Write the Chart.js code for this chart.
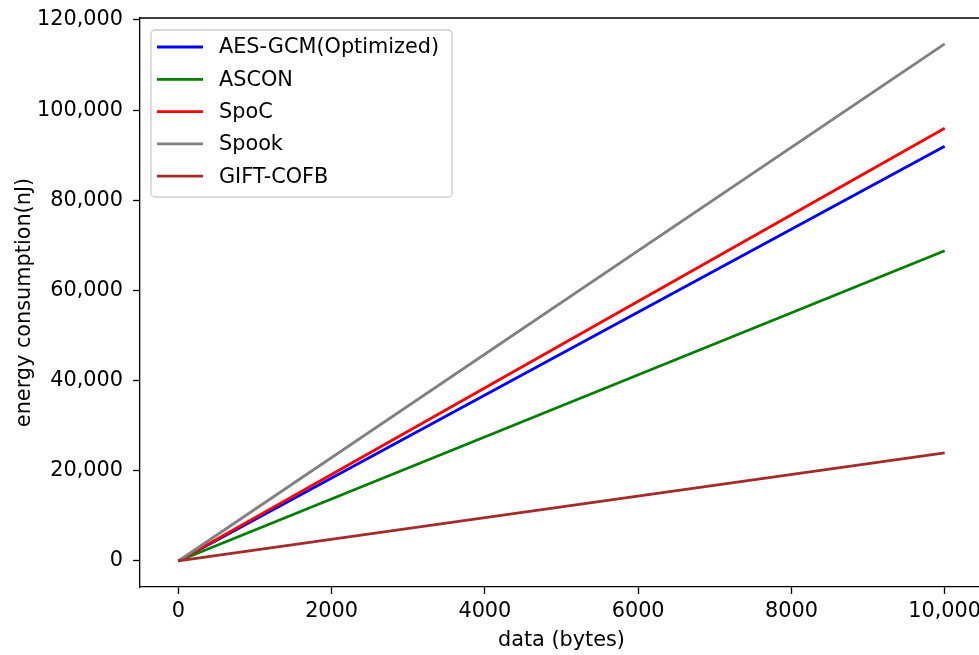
<!DOCTYPE html>
<html>
<head>
<meta charset="utf-8">
<script src="https://cdn.jsdelivr.net/npm/chart.js@4"></script>
<style>
    html, body { margin: 0; padding: 0; background: #fff; overflow: hidden; }
    #wrap { width: 979px; height: 655px; overflow: hidden; }
    #wrap div { width: 990px; height: 655px; }
</style>
</head>
<body>
<div id="wrap"><div><canvas id="energyChart"></canvas></div></div>
<script>
// Energy consumption per cipher
const dataSizes = [0, 10000];
const seriesNames = ['AES-GCM(Optimized)', 'ASCON', 'SpoC', 'Spook', 'GIFT-COFB'];
const aesGcm = [0, 92000];
const ascon = [0, 68800];
const spoc = [0, 96000];
const spook = [0, 114700];
const giftCofb = [0, 24000];
const seriesColors = ['#0000ff', '#008000', '#ff0000', '#808080', '#a52a2a'];
const xTicks = [0, 2000, 4000, 6000, 8000, 10000];
const xTickLabels = ['0', '2000', '4000', '6000', '8000', '10,000'];
const yTicks = [0, 20000, 40000, 60000, 80000, 100000, 120000];
const yTickLabels = ['0', '20,000', '40,000', '60,000', '80,000', '100,000', '120,000'];

const FONT = "'DejaVu Sans', sans-serif";
const FONT_SIZE = 20.8;
const allSeries = [aesGcm, ascon, spoc, spook, giftCofb];

// draws the top spine and a matplotlib style legend inside the plot
const framePlugin = {
    id: 'frame',
    afterDraw(chart) {
        const ctx = chart.ctx;
        const a = chart.chartArea;
        ctx.save();
        ctx.strokeStyle = '#000';
        ctx.lineWidth = 1.3;
        ctx.beginPath();
        ctx.moveTo(a.left, a.top);
        ctx.lineTo(a.right, a.top);
        ctx.lineTo(a.right, a.bottom);
        ctx.stroke();

        // legend box
        const bx = 151, by = 30, bw = 301, bh = 167;
        ctx.beginPath();
        ctx.roundRect(bx, by, bw, bh, 4);
        ctx.fillStyle = 'rgba(255,255,255,0.8)';
        ctx.fill();
        ctx.strokeStyle = '#cccccc';
        ctx.lineWidth = 1.3;
        ctx.stroke();

        ctx.font = FONT_SIZE + 'px ' + FONT;
        ctx.textBaseline = 'middle';
        ctx.fillStyle = '#000';
        chart.data.datasets.forEach((ds, i) => {
            const y = 47 + i * 32.3;
            ctx.strokeStyle = ds.borderColor;
            ctx.lineWidth = 2.8;
            ctx.beginPath();
            ctx.moveTo(157, y);
            ctx.lineTo(203, y);
            ctx.stroke();
            ctx.fillText(ds.label, 219, y + 1);
        });
        ctx.restore();
    }
};

new Chart(document.getElementById('energyChart'), {
    type: 'line',
    data: {
        datasets: seriesNames.map((name, i) => ({
            label: name,
            data: dataSizes.map((x, j) => ({ x: x, y: allSeries[i][j] })),
            borderColor: seriesColors[i],
            backgroundColor: seriesColors[i],
            borderWidth: 2.8,
            pointRadius: 0,
            tension: 0,
            order: seriesNames.length - i
        }))
    },
    options: {
        responsive: true,
        maintainAspectRatio: false,
        animation: false,
        layout: { padding: { top: 18, right: 7, left: 0, bottom: 0 } },
        plugins: {
            legend: { display: false },
            tooltip: { enabled: false }
        },
        scales: {
            x: {
                type: 'linear',
                min: -500,
                max: 10500,
                afterBuildTicks: s => { s.ticks = xTicks.map(v => ({ value: v })); },
                afterFit: s => { s.height = 68; s.paddingLeft = 0; s.paddingRight = 0; },
                ticks: {
                    callback: (v) => xTickLabels[xTicks.indexOf(v)],
                    font: { family: FONT, size: FONT_SIZE },
                    color: '#000',
                    maxRotation: 0,
                    padding: 5
                },
                grid: { drawOnChartArea: false, drawTicks: true, tickLength: 7, tickColor: '#000', tickWidth: 1.3 },
                border: { display: true, color: '#000', width: 1.3 },
                title: {
                    display: true,
                    text: 'data (bytes)',
                    font: { family: FONT, size: FONT_SIZE },
                    color: '#000',
                    padding: { top: 0, bottom: 2 }
                }
            },
            y: {
                type: 'linear',
                min: -5770,
                max: 120440,
                afterBuildTicks: s => { s.ticks = yTicks.map(v => ({ value: v })); },
                afterFit: s => { s.width = 140; s.paddingTop = 0; s.paddingBottom = 0; },
                ticks: {
                    callback: (v) => yTickLabels[yTicks.indexOf(v)],
                    font: { family: FONT, size: FONT_SIZE },
                    color: '#000',
                    padding: 10
                },
                grid: { drawOnChartArea: false, drawTicks: true, tickLength: 7, tickColor: '#000', tickWidth: 1.3 },
                border: { display: true, color: '#000', width: 1.3 },
                title: {
                    display: true,
                    text: 'energy consumption(nJ)',
                    font: { family: FONT, size: FONT_SIZE },
                    color: '#000',
                    padding: { top: 12, bottom: 0 }
                }
            }
        }
    },
    plugins: [framePlugin]
});
</script>
</body>
</html>
